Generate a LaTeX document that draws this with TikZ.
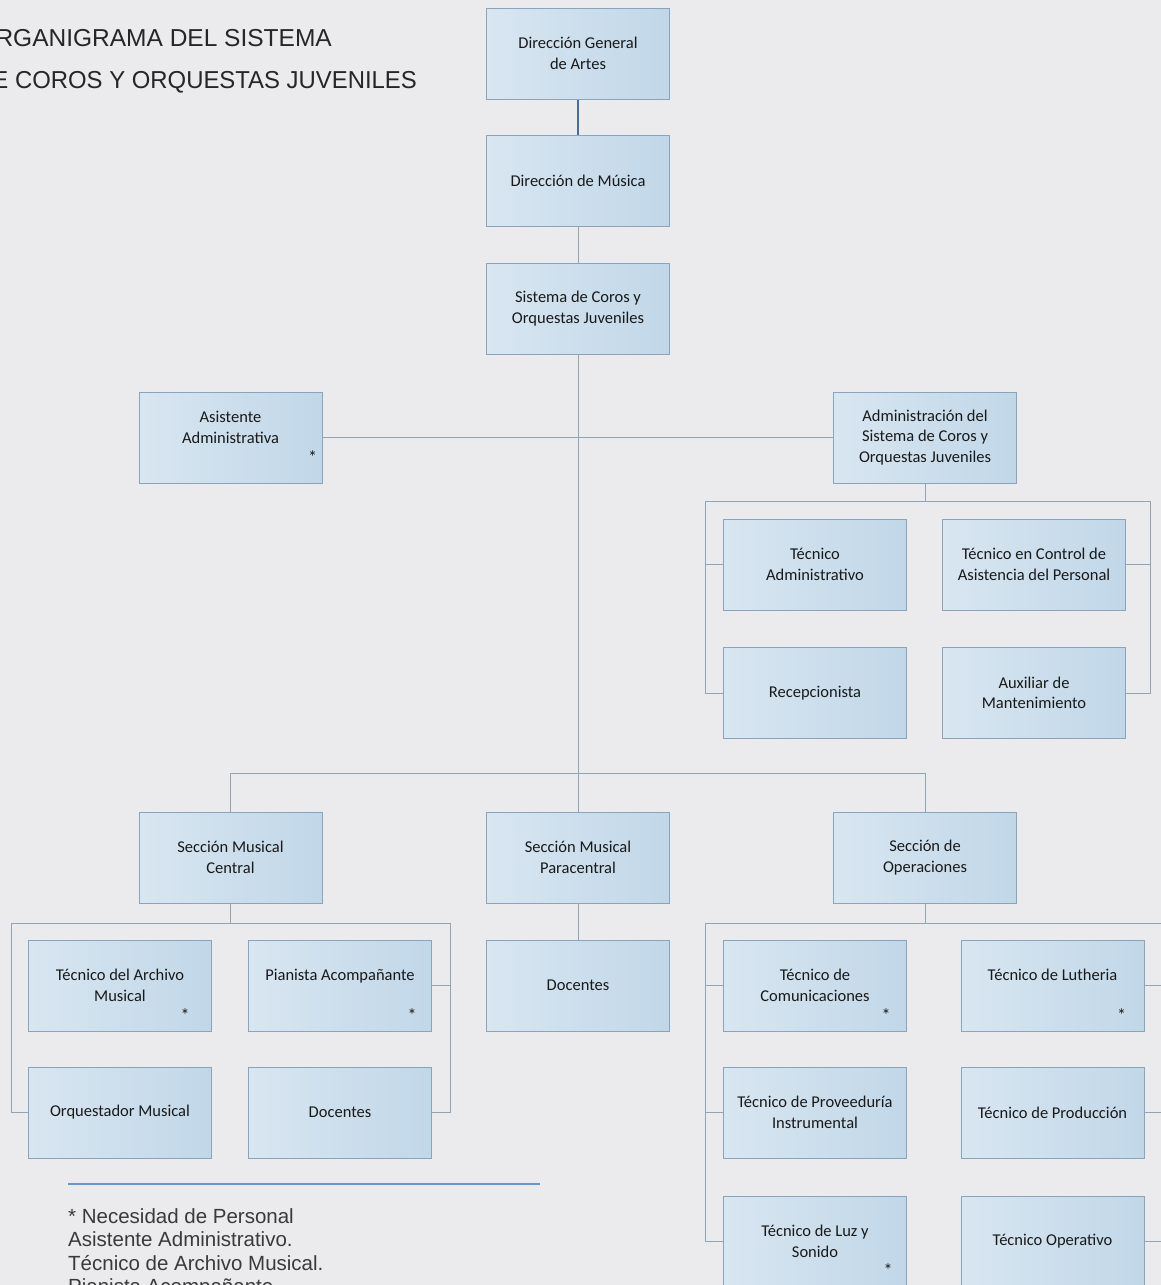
\documentclass[tikz,border=0pt]{standalone}
\usepackage{fontspec}
\setmainfont{Carlito}
\newfontfamily\headfont{Liberation Sans}
\usetikzlibrary{calc}

\definecolor{pagebg}{RGB}{235,235,237}
\definecolor{boxL}{RGB}{216,230,241}
\definecolor{boxR}{RGB}{193,215,232}
\definecolor{boxline}{RGB}{138,164,190}
\definecolor{connc}{RGB}{145,165,185}
\definecolor{topconn}{RGB}{68,110,158}
\definecolor{ink}{RGB}{25,25,25}
\definecolor{headink}{RGB}{38,38,40}
\definecolor{noteink}{RGB}{58,58,60}
\definecolor{ruleblue}{RGB}{105,150,200}

\begin{document}
\begin{tikzpicture}[x=1pt,y=-1pt,
  box/.style={draw=boxline, line width=1pt, left color=boxL, right color=boxR,
    minimum width=183pt, minimum height=91pt, inner sep=2pt, align=center,
    text=ink, font=\fontsize{16.5}{20.5}\selectfont},
  astk/.style={text=ink, inner sep=0pt, font=\fontsize{18}{20.5}\selectfont},
  conn/.style={draw=connc, line width=1pt},
  headline/.style={anchor=base east, inner sep=0pt, text=headink,
    font=\headfont\fontsize{24.5}{30}\selectfont},
  noteline/.style={anchor=base west, inner sep=0pt, text=noteink,
    font=\headfont\fontsize{20.5}{23.5}\selectfont}]

% canvas
\path[use as bounding box] (0,0) rectangle (1161,1285);
\clip (0,0) rectangle (1161,1285);
\fill[pagebg] (0,0) rectangle (1161,1285);

% title
\node[headline] (t1) at (332,46.7) {ORGANIGRAMA DEL SISTEMA};
\node[headline, xscale=0.975, transform shape] (t2) at (417,88) {DE COROS Y ORQUESTAS JUVENILES};

% top of the hierarchy
\node[box] (dga) at (578,53.5) {Dirección General\\de Artes};
\node[box] (dmu) at (578,180.5) {Dirección de Música};
\node[box] (sis) at (578,308.5) {Sistema de Coros y\\Orquestas Juveniles};
\node[box] (asi) at (230.5,437.5) {Asistente\\Administrativa\\\phantom{X}};
\node[box] (adm) at (925,437.5) {Administración del\\Sistema de Coros y\\Orquestas Juveniles};

% administration staff
\node[box] (tad) at (815,564.5) {Técnico\\Administrativo};
\node[box] (tca) at (1034,564.5) {Técnico en Control de\\Asistencia del Personal};
\node[box] (rec) at (815,693) {Recepcionista};
\node[box] (aux) at (1034,693) {Auxiliar de\\Mantenimiento};

% sections
\node[box] (smc) at (230.5,857.5) {Sección Musical\\Central};
\node[box] (par) at (578,857.5) {Sección Musical\\Paracentral};
\node[box] (sop) at (925,857.5) {Sección de\\Operaciones};

% central section staff
\node[box] (tar) at (120,985.5) {Técnico del Archivo\\Musical};
\node[box] (pia) at (340,985.5) {Pianista Acompañante\\\phantom{X}};
\node[box] (orq) at (120,1112.5) {Orquestador Musical};
\node[box] (doa) at (340,1112.5) {Docentes};

% paracentral section staff
\node[box] (dob) at (578,985.5) {Docentes};

% operations staff
\node[box] (tco) at (815,985.5) {Técnico de\\Comunicaciones};
\node[box] (tlu) at (1052.5,985.5) {Técnico de Lutheria\\\phantom{X}};
\node[box] (tpv) at (815,1112.5) {Técnico de Proveeduría\\Instrumental};
\node[box] (tpr) at (1052.5,1112.5) {Técnico de Producción};
\node[box] (tls) at (815,1241.5) {Técnico de Luz y\\Sonido};
\node[box] (top) at (1052.5,1241.5) {Técnico Operativo};

% staffing-need marks
\node[astk] at ([xshift=-10pt,yshift=26pt]asi.south east) {*};
\node[astk] at ([xshift=-27pt,yshift=16pt]tar.south east) {*};
\node[astk] at ([xshift=-20pt,yshift=16pt]pia.south east) {*};
\node[astk] at ([xshift=-21pt,yshift=16pt]tco.south east) {*};
\node[astk] at ([xshift=-23pt,yshift=16pt]tlu.south east) {*};
\node[astk] at ([xshift=-19pt,yshift=17pt]tls.south east) {*};

% connectors: main trunk
\draw[draw=topconn, line width=2pt] (dga.south) -- (dmu.north);
\draw[conn] (dmu.south) -- (sis.north);
\draw[conn] (sis.south) -- (par.north);
\draw[conn] (asi.east) -- (adm.west);
\draw[conn] (smc.north) -- ++(0,-38) -| (sop.north);

% connectors: administration
\draw[conn] (adm.south) -- ++(0,18) coordinate (aj);
\draw[conn] (tad.west) -- ++(-18,0) |- (aj);
\draw[conn] (rec.west) -- ++(-18,0) |- (aj);
\draw[conn] (tca.east) -- ++(24,0) |- (aj);
\draw[conn] (aux.east) -- ++(24,0) |- (aj);

% connectors: central section
\draw[conn] (smc.south) -- ++(0,20) coordinate (cj);
\draw[conn] (orq.west) -- ++(-17,0) |- (cj);
\draw[conn] (pia.east) -- ++(18,0) |- (cj);
\draw[conn] (doa.east) -- ++(18,0) |- (cj);

% connectors: paracentral section
\draw[conn] (par.south) -- (dob.north);

% connectors: operations
\draw[conn] (sop.south) -- ++(0,20) coordinate (oj);
\draw[conn] (tco.west) -- ++(-18,0) |- (oj);
\draw[conn] (tpv.west) -- ++(-18,0) |- (oj);
\draw[conn] (tls.west) -- ++(-18,0) |- (oj);
\draw[conn] (tlu.east) -- ++(20,0) |- (oj);
\draw[conn] (tpr.east) -- ++(20,0) |- (oj);
\draw[conn] (top.east) -- ++(20,0) |- (oj);

% footnote
\coordinate (ruleA) at (68,1184);
\coordinate (ruleB) at (540,1184);
\draw[draw=ruleblue, line width=1.5pt] (ruleA) -- (ruleB);
\node[noteline] (n1) at (68,1223) {* Necesidad de Personal};
\node[noteline] (n2) at (68,1246.5) {Asistente Administrativo.};
\node[noteline] (n3) at (68,1270) {Técnico de Archivo Musical.};
\node[noteline] (n4) at (68,1293.5) {Pianista Acompañante};
\end{tikzpicture}
\end{document}
